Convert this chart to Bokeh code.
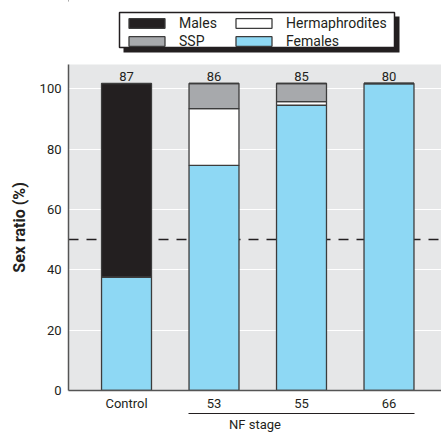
from bokeh.plotting import figure
from bokeh.layouts import column
from bokeh.models import (Range1d, LinearAxis, FixedTicker, Span, Legend, LegendItem,
                          ColumnDataSource)
from bokeh.core.properties import value
from bokeh.embed import file_html
from bokeh.resources import INLINE

# ---- data ----
groups = ["Control", "53", "55", "66"]
n_animals = ["87", "86", "85", "80"]
females = [37.6, 74.6, 94.5, 101.7]
hermaphrodites = [0.0, 18.8, 1.2, 0.0]
ssp = [0.0, 8.3, 6.0, 0.0]
males = [64.1, 0.0, 0.0, 0.0]
y_ticks = [0, 20, 40, 60, 80, 100]
reference_line = 50

FONT = "Roboto"
INK = "#231f20"
colors = {"Females": "#8ed8f4", "Hermaphrodites": "#ffffff", "SSP": "#a7a9ac", "Males": "#231f20"}
stack = ["Females", "Hermaphrodites", "SSP", "Males"]
legend_order = ["Males", "SSP", "Hermaphrodites", "Females"]

xs = list(range(len(groups)))
totals = [f + h + s + m for f, h, s, m in zip(females, hermaphrodites, ssp, males)]

src = ColumnDataSource(dict(x=xs, Females=females, Hermaphrodites=hermaphrodites,
                            SSP=ssp, Males=males, total=totals, n=n_animals))

LEG_H = 56
LEFT = 68
# ---------------- legend strip (frame aligned with main plot frame) ----------------
lf = figure(width=441, height=LEG_H, output_backend="svg", toolbar_location=None,
            x_range=Range1d(LEFT, 441), y_range=Range1d(LEG_H, 0),
            min_border=0, min_border_left=LEFT, x_axis_type=None, y_axis_type=None)
lf.outline_line_color = None
lf.xgrid.visible = False
lf.ygrid.visible = False
lf.background_fill_color = "white"
lf.border_fill_color = "white"
# legend box with drop shadow (pixel layout of the strip)
lf.quad(left=[123], right=[399], top=[16], bottom=[52], fill_color=INK, line_color=None)
lf.quad(left=[119], right=[394], top=[12], bottom=[47], fill_color="white",
        line_color=INK, line_width=1.5)
dummy = {}
for name in legend_order:
    dummy[name] = lf.vbar(x=[-1000], top=[0], width=1, fill_color=colors[name],
                          line_color="#3c3c3c", line_width=1.3)
legend = Legend(items=[LegendItem(label=n, renderers=[dummy[n]]) for n in legend_order],
                orientation="vertical", nrows=2, location=(56, 7))
legend.label_text_font = FONT
legend.label_text_font_size = "14px"
legend.label_text_color = INK
legend.glyph_width = 45
legend.glyph_height = 12
legend.label_standoff = 10
legend.label_width = 50
legend.spacing = 2
legend.padding = 2
legend.margin = 0
legend.border_line_color = None
legend.background_fill_alpha = 0
legend.label_height = 14
lf.add_layout(legend, "center")

# ---------------- main plot ----------------
p = figure(width=441, height=434 - LEG_H, output_backend="svg", toolbar_location=None,
           x_range=Range1d(-0.663, 3.6), y_range=Range1d(0, 108),
           min_border_left=LEFT, min_border_right=0, min_border_top=8, min_border_bottom=0)
p.background_fill_color = "#e6e7e8"
p.border_fill_color = "white"
p.outline_line_color = None
p.xgrid.visible = False
p.ygrid.ticker = FixedTicker(ticks=y_ticks)
p.ygrid.grid_line_color = "white"
p.ygrid.grid_line_width = 1.2

span = Span(location=reference_line, dimension="width", line_color=INK,
            line_width=1.5, line_dash="10 8", level="underlay")
p.add_layout(span)

rends = p.vbar_stack(stack, x="x", width=0.571, source=src,
                     fill_color=[colors[s] for s in stack],
                     line_color="#3c3c3c", line_width=1.3)

p.text(x="x", y="total", text="n", source=src, text_align="center",
       text_baseline="bottom", y_offset=-3, text_font=value(FONT),
       text_font_size="13px", text_color=INK)

yax = p.yaxis[0]
yax.ticker = FixedTicker(ticks=y_ticks)
yax.axis_label = "Sex ratio (%)"
yax.axis_label_text_font = FONT
yax.axis_label_text_font_style = "bold"
yax.axis_label_text_font_size = "16px"
yax.axis_label_text_color = INK
yax.axis_label_standoff = 8
yax.major_label_text_font = FONT
yax.major_label_text_font_size = "13px"
yax.major_label_text_color = INK
yax.major_tick_out = 0
yax.major_tick_in = 0
yax.minor_tick_out = 0
yax.minor_tick_in = 0
yax.axis_line_color = "#555555"
yax.axis_line_width = 1.5
yax.major_label_standoff = 7

xax = p.xaxis[0]
xax.ticker = FixedTicker(ticks=xs)
xax.major_label_overrides = {i: g for i, g in enumerate(groups)}
xax.major_label_text_font = FONT
xax.major_label_text_font_size = "13px"
xax.major_label_text_color = INK
xax.major_tick_out = 0
xax.major_tick_in = 0
xax.minor_tick_out = 0
xax.minor_tick_in = 0
xax.axis_line_color = "#555555"
xax.axis_line_width = 1.5
xax.major_label_standoff = 5

nf = LinearAxis(ticker=FixedTicker(ticks=[2]), bounds=(0.71, 3.29))
nf.major_label_overrides = {2: " "}
nf.major_label_text_font_size = "0px"
nf.major_label_standoff = 0
nf.axis_label = "NF stage"
nf.axis_label_text_font = FONT
nf.axis_label_text_font_style = "normal"
nf.axis_label_text_font_size = "13px"
nf.axis_label_text_color = INK
nf.axis_label_standoff = 3
nf.axis_line_color = INK
nf.axis_line_width = 1.2
nf.major_tick_out = 0
nf.major_tick_in = 0
nf.minor_tick_out = 0
nf.minor_tick_in = 0
p.add_layout(nf, "below")

layout = column(lf, p, spacing=0)
open("out.html", "w").write(file_html(layout, INLINE))
